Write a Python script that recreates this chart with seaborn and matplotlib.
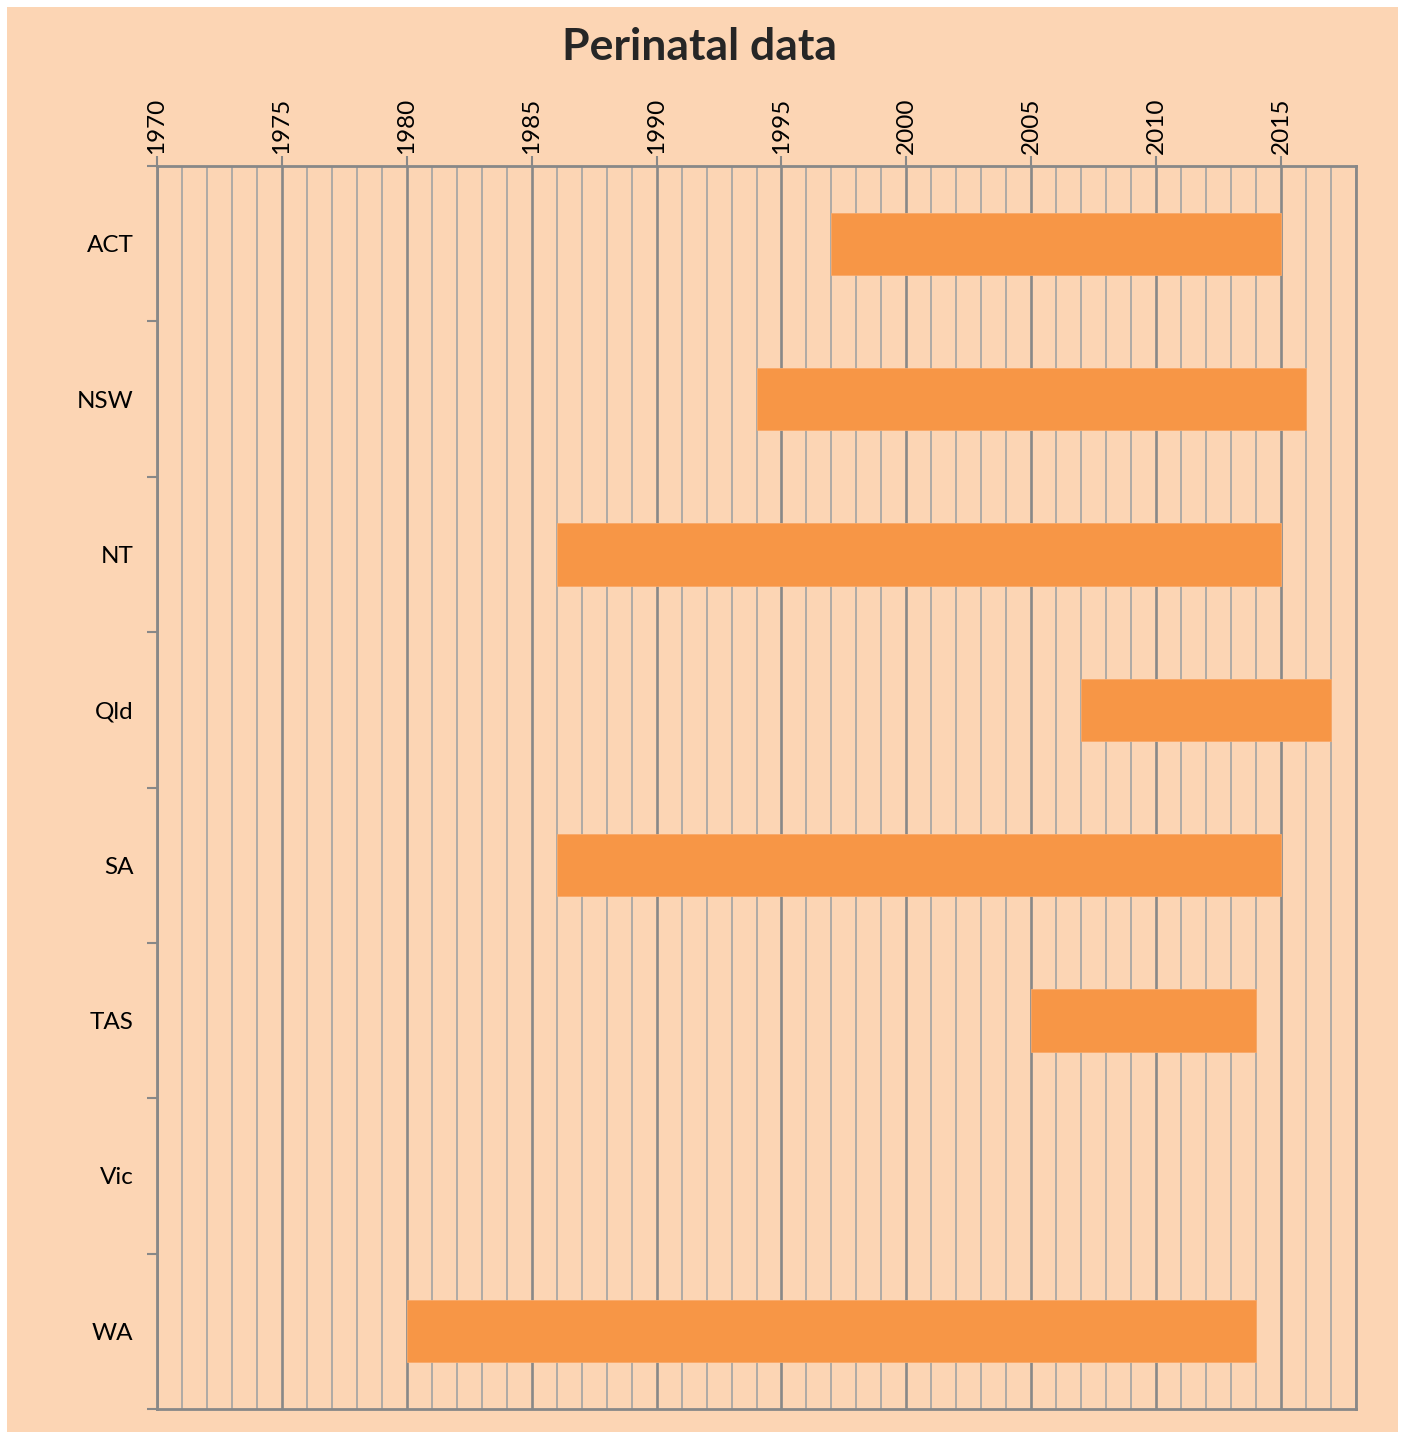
import numpy as np
import pandas as pd
import matplotlib
matplotlib.use("Agg")
import matplotlib.pyplot as plt
from matplotlib.patches import Rectangle
from matplotlib.ticker import MultipleLocator, FixedLocator
import seaborn as sns

states = ["ACT", "NSW", "NT", "Qld", "SA", "TAS", "Vic", "WA"]
start_year = [1997, 1994, 1986, 2007, 1986, 2005, np.nan, 1980]
end_year = [2015, 2016, 2015, 2017, 2015, 2014, np.nan, 2014]
x_min, x_max = 1970, 2018
title = "Perinatal data"

df = pd.DataFrame({"state": states, "start": start_year, "end": end_year})
df["duration"] = (df["end"] - df["start"]).fillna(0)

sns.set_theme(style="white")
plt.rcParams["font.family"] = ["Lato", "DejaVu Sans"]

peach = "#FCD5B4"
bar_col = "#F79646"
grid_major = "#888888"
grid_minor = "#a3a3a3"

fig = plt.figure(figsize=(14.02, 14.37), dpi=100, facecolor="white")
fig.add_artist(Rectangle((7 / 1402, 5 / 1437), 1391 / 1402, 1425 / 1437,
                         transform=fig.transFigure, facecolor=peach,
                         edgecolor="none", zorder=-10))
ax = fig.add_axes([157 / 1402, 1 - 1409 / 1437, 1199 / 1402, (1409 - 166) / 1437])
ax.set_facecolor(peach)

sns.barplot(data=df, x="duration", y="state", order=states, color=bar_col,
            width=0.4, saturation=1, ax=ax, errorbar=None, zorder=3,
            edgecolor="#FAA968", linewidth=0.6)
# shift each bar to its start year (matched by category position)
starts = dict(enumerate(df["start"]))
for patch in ax.patches:
    idx = int(round(patch.get_y() + patch.get_height() / 2))
    s = starts.get(idx, np.nan)
    if np.isnan(s):
        patch.set_visible(False)
    else:
        patch.set_x(s)

ax.set_xlim(x_min, x_max)
ax.set_ylim(len(states) - 0.5, -0.5)

# x axis on top
ax.xaxis.tick_top()
ax.xaxis.set_major_locator(MultipleLocator(5))
ax.xaxis.set_minor_locator(MultipleLocator(1))
ax.tick_params(axis="x", which="major", top=True, bottom=False, length=7,
               width=1.5, color=grid_major, labelsize=17.5, labelrotation=90,
               pad=2, labelcolor="black")
ax.tick_params(axis="x", which="minor", top=False, bottom=False, length=0)

# y ticks: marks at category boundaries, labels at centres
ax.yaxis.set_minor_locator(FixedLocator(np.arange(-0.5, len(states), 1.0)))
ax.tick_params(axis="y", which="minor", left=True, length=7, width=1.5,
               color=grid_major)
ax.tick_params(axis="y", which="major", left=False, length=0, labelsize=17.5,
               pad=17, labelcolor="black")

ax.grid(axis="x", which="major", color=grid_major, linewidth=1.9, zorder=1)
ax.grid(axis="x", which="minor", color=grid_minor, linewidth=1.2, zorder=1)
ax.set_axisbelow(True)

for side in ["left", "right", "top", "bottom"]:
    ax.spines[side].set_visible(True)
    ax.spines[side].set_color(grid_major)
    ax.spines[side].set_linewidth(2.0)

ax.set_xlabel("")
ax.set_ylabel("")
fig.text(700 / 1402, 1 - 47 / 1437, title, ha="center", va="center",
         fontsize=32, fontweight="bold", color="#262626")

fig.savefig("out.png", dpi=100, facecolor="white")
